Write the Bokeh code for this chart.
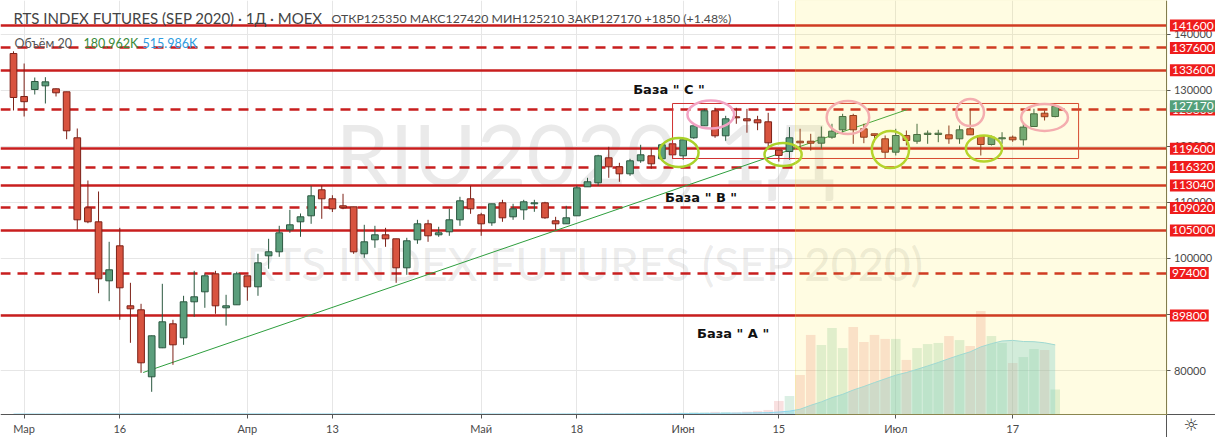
import pandas as pd
from bokeh.plotting import figure
from bokeh.models import (Range1d, FixedTicker, BasicTickFormatter, Label, LinearAxis,
                          BoxAnnotation, ColumnDataSource)
from bokeh.core.properties import value
from bokeh.embed import file_html
from bokeh.resources import INLINE

# ---------------- data ----------------
opens = [136607,128929,130179,130833,130300,129768,121554,109054,106554,96018,
         102268,91554,90839,78875,84054,88339,85839,92268,94054,97268,
         91196,91732,96911,94946,100482,101196,105125,106554,107625,112268,
         110661,109411,109232,100839,103339,104232,103518,98339,103339,106196,
         104232,104768,106911,110661,107804,106375,109946,107446,108696,109768,
         109946,106732,106196,107625,112804,113518,117982,116375,115125,117446,
         118339,117804,120482,118339,121554,123696,126375,121911,125304,124946,
         124768,124411,119375,119107,120946,120946,120589,121661,122982,125536,
         123161,122268,121375,118982,121964,120946,122143,122143,122089,121375,
         123161,121964,120357,121375,121661,121196,123571,125946,125350]
highs = [137000,134821,132321,132375,130357,129768,123214,113929,111964,102982,
         105482,95661,91911,86250,95482,89054,93339,97804,97321,97804,
         93518,97625,96911,100839,103518,105839,108696,108036,112982,113036,
         111300,111554,109232,106018,105839,105482,103518,103696,106911,106911,
         105661,108875,111018,112982,108161,109768,110482,109768,110482,110482,
         110125,107446,109411,112982,114411,118518,119946,117089,117800,120304,
         119643,120500,121196,121375,123800,126732,126911,125482,126911,126732,
         125482,126018,119375,123464,123161,122268,123571,124054,125839,125839,
         124054,122268,121964,123161,122857,124054,122857,122982,123750,123750,
         126732,121964,121964,122554,121964,124339,126732,126429,127420]
lows = [126429,125357,129286,127679,128929,121304,105125,106300,93804,92375,
        89054,84946,79589,76196,84000,81018,84589,89589,91196,90125,
        88018,91732,92464,93339,98161,100304,104589,103875,106196,107089,
        108300,108804,100839,100125,101911,102089,95661,97089,102625,102982,
        103875,104054,105839,107982,104054,105839,106554,106911,106911,108339,
        107089,105125,106196,107625,112804,112982,114411,113696,114768,117089,
        116018,117700,117804,117625,121375,123696,121554,121018,124054,122464,
        122911,119589,117304,117625,119286,119286,119589,121375,122268,120482,
        120589,120768,117804,118393,120179,120482,120482,120768,120482,120482,
        122089,118393,120179,120482,120839,120179,123571,124643,125210]
closes = [128750,128000,131607,131548,129589,122804,106911,106554,96375,97982,
          94768,91018,81375,86196,88696,84589,92268,93161,96911,91554,
          91554,97268,94946,99232,101196,104589,106018,107446,111196,110661,
          108875,109054,101196,102982,104232,103518,98339,103161,106196,104054,
          104589,106911,110304,108875,106196,109768,107268,108875,110125,109946,
          107268,106196,107268,112625,113696,118339,116375,115125,117446,118518,
          116911,120304,118518,121196,123696,126375,121911,124946,125125,124589,
          124232,120661,118411,121554,120661,120589,121661,122732,125357,122982,
          121661,121964,118982,121964,121071,122143,122375,122375,121375,122982,
          122089,120357,121661,121554,121196,123464,125839,125320,127170]
# volume, thousands of contracts
volumes = [3,4,3,3,3,5,6,5,6,5,
           6,5,6,5,4,4,4,3,3,4,
           3,4,3,4,3,4,3,3,4,4,
           3,4,4,3,3,3,4,4,4,3,
           3,4,4,4,3,4,4,3,4,4,
           4,5,5,7,6,8,8,7,8,9,
           9,10,12,13,16,15,19,17,15,21,
           26,33,98,134,286,576,503,626,481,633,
           525,576,547,547,395,481,510,518,568,539,
           496,749,568,518,373,416,474,467,181]

tick_index = [1, 10, 22, 30, 44, 53, 63, 72, 83, 94]
tick_labels = ["Мар", "16", "Апр", "13", "Май", "18", "Июн", "15", "Июл", "17"]
price_ticks = [80000, 90000, 100000, 110000, 120000, 130000, 140000]

solid_levels = [141600, 133600, 119600, 113040, 105000, 89800]
dashed_levels = [137600, 126600, 116320, 109020, 97400]
last_price = 127170

# drawings (data coordinates: bar index, price)
trend_x = [12.2, 84.1]
trend_y = [79643, 126607]
box_left, box_right, box_top, box_bottom = 62.0, 100.2, 127679, 117857
pink_x = [65.6, 78.5, 90.0, 97.0]
pink_y = [125714, 125179, 126071, 125179]
pink_w = [4.4, 4.0, 2.6, 4.4]
pink_h = [5000, 5893, 4821, 4821]
lime_x = [62.6, 72.4, 82.5, 91.3]
lime_y = [118929, 118571, 119464, 119643]
lime_w = [3.7, 3.5, 3.5, 3.4]
lime_h = [5179, 4107, 6607, 4643]
base_text = ['База  " С "', 'База  " В "', 'База  " А "']
base_x = [58.3, 61.3, 64.3]
base_y = [130179, 110893, 86607]
highlight_start = 73.57

# ---------------- figure ----------------
X0, XR = -1.223, 113.08      # full canvas width (chart + price scale strip)
XA = 108.51                  # where the price scale starts
YB, YA, Y1 = 68036, 72143, 146071   # canvas bottom, time-axis line, canvas top
p = figure(width=1215, height=437, x_range=Range1d(X0, XR), y_range=Range1d(YB, Y1),
           y_axis_location=None, output_backend="svg", toolbar_location=None,
           min_border_left=0, min_border_top=0, min_border_right=0, min_border_bottom=0)
p.outline_line_color = None
p.extra_y_ranges = {"vol": Range1d(-166.5, 2997)}

xax = p.xaxis[0]
xax.fixed_location = YA
yax = LinearAxis(fixed_location=XA)
p.add_layout(yax, "right")

for ax in (xax, yax):
    ax.axis_line_color = "#555555"
    ax.major_tick_line_color = "#555555"
    ax.major_tick_in = 0
    ax.major_tick_out = 4
    ax.minor_tick_line_color = None
    ax.major_label_text_color = "#4a4a4a"
    ax.major_label_text_font = "Lato"
    ax.major_label_text_font_size = "11px"
    ax.major_label_standoff = 3
xax.ticker = FixedTicker(ticks=tick_index)
xax.major_label_overrides = {i: t for i, t in zip(tick_index, tick_labels)}
yax.ticker = FixedTicker(ticks=price_ticks)
yax.formatter = BasicTickFormatter(use_scientific=False)
p.xgrid.ticker = FixedTicker(ticks=tick_index)
p.ygrid.ticker = FixedTicker(ticks=price_ticks)
p.xgrid.grid_line_color = "#e6e6e6"
p.ygrid.grid_line_color = "#e6e6e6"

idx = list(range(len(opens)))

# watermark
p.text(x=[53.8], y=[118929], text=["RIU2020, 1Д"], text_font=value("Lato"),
       text_font_size="86px", text_color="#8c8c8c", text_alpha=0.18,
       text_align="center", text_baseline="middle")
p.text(x=[53.8], y=[99107], text=["RTS INDEX FUTURES (SEP 2020)"], text_font=value("Lato"),
       text_font_size="46px", text_color="#8c8c8c", text_alpha=0.18,
       text_align="center", text_baseline="middle")

# volume
up = [c >= o for o, c in zip(opens, closes)]
vol_df = pd.DataFrame({"x": idx, "v": volumes})
vol_df["ma"] = vol_df["v"].rolling(20, min_periods=1).mean()
vol_df["col"] = ["#4caf7a" if u else "#e06666" for u in up]
vsrc = ColumnDataSource(vol_df)
p.vbar(x="x", width=0.9, top="v", bottom=0, source=vsrc, y_range_name="vol",
       fill_color="col", fill_alpha=0.2, line_color=None)
p.varea(x="x", y1=0, y2="ma", source=vsrc, y_range_name="vol",
        fill_color="#5cc6e2", fill_alpha=0.32)
p.line(x="x", y="ma", source=vsrc, y_range_name="vol", line_color="#8fd6ec", line_width=1)

# levels
p.hspan(y=solid_levels, line_color="#c81e1e", line_width=2.5)
p.hspan(y=dashed_levels, line_color="#c81e1e", line_width=2.5, line_dash="10 7")

# trend line
p.line(x=trend_x, y=trend_y, line_color="#2e9e3e", line_width=1)

# candles
cdf = pd.DataFrame({"x": idx, "o": opens, "h": highs, "l": lows, "c": closes})
cdf["top"] = cdf[["o", "c"]].max(axis=1)
cdf["bot"] = cdf[["o", "c"]].min(axis=1)
cdf["fill"] = ["#5b9e7c" if u else "#d8533f" for u in up]
cdf["edge"] = ["#2b5840" if u else "#7d2117" for u in up]
csrc = ColumnDataSource(cdf)
p.segment(x0="x", y0="l", x1="x", y1="h", source=csrc, line_color="edge", line_width=1)
p.vbar(x="x", width=0.63, top="top", bottom="bot", source=csrc,
       fill_color="fill", line_color="edge", line_width=1)

# rectangle & ellipses
p.quad(left=[box_left], right=[box_right], top=[box_top], bottom=[box_bottom],
       fill_color=None, line_color="#d03030", line_width=1)
p.ellipse(x=pink_x, y=pink_y, width=pink_w, height=pink_h, fill_color=None,
          line_color="#f2a3c4", line_width=2.5)
p.ellipse(x=lime_x, y=lime_y, width=lime_w, height=lime_h, fill_color=None,
          line_color="#a9d12a", line_width=2.5)

# base labels
p.text(x=base_x, y=base_y, text=base_text, text_font=value("DejaVu Sans"),
       text_font_style="bold", text_font_size="13px", text_color="#111111",
       text_align="left", text_baseline="middle")

# blank strips: price scale (right) and time scale (bottom)
p.add_layout(BoxAnnotation(left=XA, fill_color="white", fill_alpha=1.0, line_alpha=0,
                           level="glyph"))
p.add_layout(BoxAnnotation(top=YA, fill_color="white", fill_alpha=1.0, line_alpha=0,
                           level="glyph"))

# highlighted date range (yellow tint with a yellow left edge)
p.add_layout(BoxAnnotation(left=highlight_start, right=XA, bottom=YA, fill_color="#ffeb3b",
                           fill_alpha=0.15, line_color="#f0e24a", line_width=1))

# header / legend
p.add_layout(Label(x=13, y=142857, x_units="screen", text="RTS INDEX FUTURES (SEP 2020) · 1Д · MOEX",
                   text_font="Lato", text_font_size="15px", text_color="#444444",
                   text_baseline="middle"))
p.add_layout(Label(x=331, y=142857, x_units="screen",
                   text="ОТКР125350  МАКС127420  МИН125210  ЗАКР127170  +1850 (+1.48%)",
                   text_font="Lato", text_font_size="12.3px", text_color="#4a4a4a",
                   text_baseline="middle"))
p.add_layout(Label(x=14, y=138393, x_units="screen", text="Объём 20",
                   text_font="Lato", text_font_size="12.5px", text_color="#555555",
                   text_baseline="middle"))
p.add_layout(Label(x=83, y=138393, x_units="screen", text="180.962K",
                   text_font="Lato", text_font_size="12.5px", text_color="#3a8a3a",
                   text_baseline="middle"))
p.add_layout(Label(x=142, y=138393, x_units="screen", text="515.986K",
                   text_font="Lato", text_font_size="12.5px", text_color="#2f9be0",
                   text_baseline="middle"))

# price-scale level labels
for lv in solid_levels + dashed_levels:
    p.add_layout(Label(x=XA, y=lv, x_offset=3, text=str(lv), text_font="Lato",
                       text_font_size="12px", text_color="white", text_baseline="middle",
                       background_fill_color="#ef1c1c", padding=2))
p.add_layout(Label(x=XA, y=last_price, x_offset=3, text=str(last_price), text_font="Lato",
                   text_font_size="12px", text_color="white", text_baseline="middle",
                   background_fill_color="#54a07a", padding=2))

# settings icon in the bottom-right corner
p.add_layout(Label(x=110.8, y=70179, text="☼", text_font="DejaVu Sans",
                   text_font_size="17px", text_color="#333333", text_align="center",
                   text_baseline="middle"))

open("out.html", "w").write(file_html(p, INLINE))
